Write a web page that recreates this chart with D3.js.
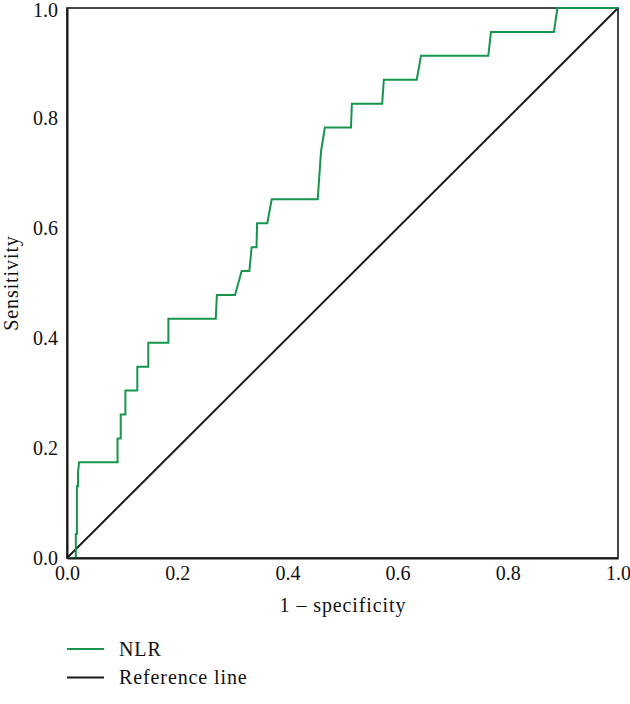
<!DOCTYPE html>
<html><head><meta charset="utf-8">
<script src="https://cdn.jsdelivr.net/npm/d3@7"></script>
<style>body{margin:0;background:#fff}svg{display:block}text{font-family:"Liberation Serif","Times New Roman",serif;fill:#111}</style>
</head><body><svg id="c" width="630" height="704"></svg>
<script>
// ROC curve points for NLR (1 - specificity, sensitivity)
const fpr = [0, 0.016, 0.016, 0.018, 0.018, 0.020, 0.020, 0.022, 0.0917, 0.0917, 0.0975, 0.0975, 0.106, 0.106, 0.1276, 0.1276, 0.1475, 0.1475, 0.184, 0.184, 0.270, 0.272, 0.305, 0.317, 0.331, 0.335, 0.344, 0.345, 0.3635, 0.3715, 0.455, 0.461, 0.468, 0.5154, 0.517, 0.572, 0.575, 0.6347, 0.6425, 0.7646, 0.7695, 0.8838, 0.890, 1.0];
const tpr = [0, 0, 1/23, 1/23, 3/23, 3/23, 3.6/23, 4/23, 4/23, 5/23, 5/23, 6/23, 6/23, 7/23, 7/23, 8/23, 8/23, 9/23, 9/23, 10/23, 10/23, 11/23, 11/23, 12/23, 12/23, 13/23, 13/23, 14/23, 14/23, 15/23, 15/23, 17/23, 18/23, 18/23, 19/23, 19/23, 20/23, 20/23, 21/23, 21/23, 22/23, 22/23, 1, 1];
const refLine = [[0,0],[1,1]];
const ticks = [0, 0.2, 0.4, 0.6, 0.8, 1.0];
const legendLabels = ["NLR", "Reference line"];
const colors = ["#17954d", "#1a1a1a"];

const svg = d3.select("#c");
const x = d3.scaleLinear().domain([0,1]).range([67, 618]);
const y = d3.scaleLinear().domain([0,1]).range([558, 8]);

// box
svg.append("rect").attr("x",67).attr("y",8).attr("width",551).attr("height",550)
  .attr("fill","none").attr("stroke","#1a1a1a").attr("stroke-width",1.6);

const line = d3.line().x(d=>x(d[0])).y(d=>y(d[1]));
svg.append("path").datum(refLine).attr("d",line).attr("fill","none").attr("stroke",colors[1]).attr("stroke-width",2);
svg.append("path").datum(fpr.map((v,i)=>[v,tpr[i]])).attr("d",line).attr("fill","none").attr("stroke",colors[0]).attr("stroke-width",2);

// axes
const xAxis = svg.append("g").attr("transform","translate(0,558)")
  .call(d3.axisBottom(x).tickValues(ticks).tickFormat(d3.format(".1f")).tickSize(0).tickPadding(8));
const yAxis = svg.append("g").attr("transform","translate(67,0)")
  .call(d3.axisLeft(y).tickValues(ticks).tickFormat(d3.format(".1f")).tickSize(0).tickPadding(9));
[xAxis,yAxis].forEach(g=>{
  g.select(".domain").attr("stroke","#1a1a1a").attr("stroke-width",2);
  g.selectAll("text").attr("font-size",20).attr("font-family","Liberation Serif").attr("fill","#111");
});
yAxis.selectAll(".tick").filter(d=>d===1).select("text").attr("dy","0.42em");

const ls = 0.9;
svg.append("text").attr("x",343).attr("y",612).attr("text-anchor","middle").attr("font-size",20).attr("letter-spacing",ls).text("1 \u2013 specificity");
svg.append("text").attr("transform","translate(18,283) rotate(-90)").attr("text-anchor","middle").attr("font-size",20).attr("letter-spacing",ls).text("Sensitivity");

// legend
const lg = svg.append("g");
legendLabels.forEach((t,i)=>{
  const yy = 649 + i*28.5;
  lg.append("line").attr("x1",67).attr("x2",104).attr("y1",yy).attr("y2",yy).attr("stroke",colors[i]).attr("stroke-width",2);
  lg.append("text").attr("x",119).attr("y",yy+6.5).attr("font-size",20).attr("letter-spacing",ls).text(t);
});
</script></body></html>
